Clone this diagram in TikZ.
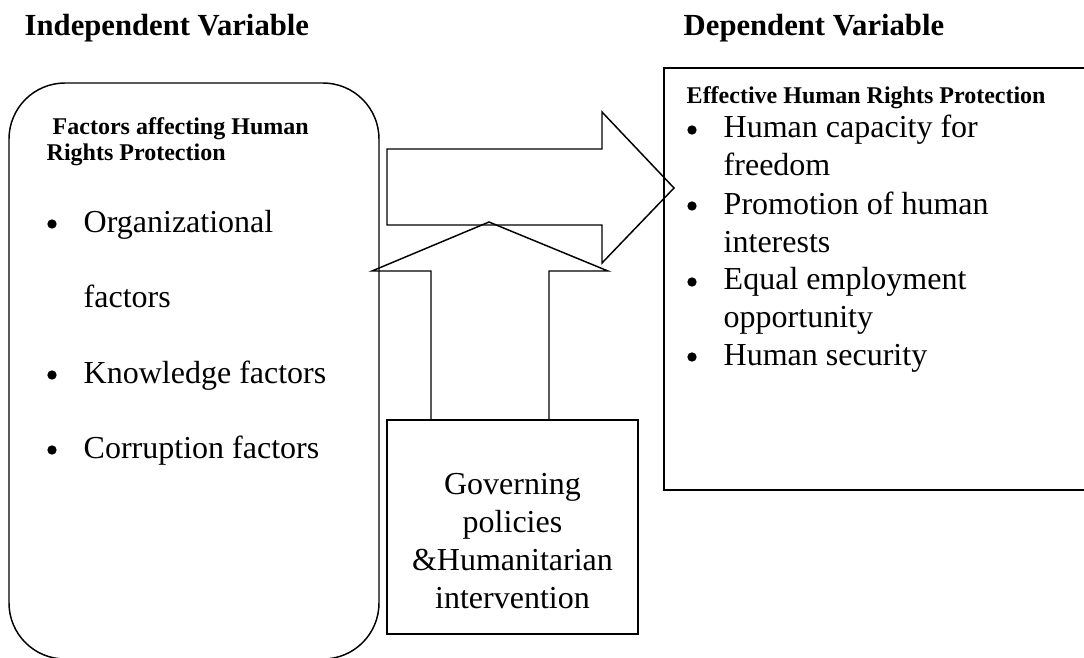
\documentclass[tikz,border=0pt]{standalone}
\usepackage{fontspec}
\setmainfont{Liberation Serif}
\begin{document}
\begin{tikzpicture}[x=0.75pt,y=-0.75pt,line width=1.1pt,
  title/.style={font=\fontsize{23}{28}\selectfont\bfseries,anchor=base west,inner sep=0pt},
  head/.style={font=\fontsize{18}{19.5}\selectfont\bfseries,anchor=base west,inner sep=0pt,align=left},
  item/.style={font=\fontsize{24}{28.35}\selectfont,anchor=base west,inner sep=0pt,align=left},
  dot/.style={circle,fill,inner sep=0pt,minimum size=7pt}]
\useasboundingbox (0,0) rectangle (1084,657);

\node[title] (indep) at (24,35) {Independent Variable};
\node[title] (dep) at (683,35) {Dependent Variable};

% left box
\draw[rounded corners=42pt] (9,83) rectangle (379,659);
\node[head] (factors) at (46,160) {\ Factors affecting Human\\Rights Protection};
\node[dot] (d1) at (52,224) {};
\node[item] (org) at (83,232) {Organizational};
\node[item] (orgb) at (83,307) {factors};
\node[dot] (d2) at (52,375) {};
\node[item] (know) at (83,383) {Knowledge factors};
\node[dot] (d3) at (52,450) {};
\node[item] (corr) at (83,458) {Corruption factors};

% right box
\draw (1100,68) -- (664,68) -- (664,490) -- (1100,490);
\node[head] (effective) at (686,103) {Effective Human Rights Protection};
\node[dot] (e1) at (692,130) {};
\node[item] (cap) at (723,175) {Human capacity for\\freedom};
\node[dot] (e2) at (692,206) {};
\node[item] (prom) at (723,252) {Promotion of human\\interests};
\node[dot] (e3) at (692,282) {};
\node[item] (equal) at (723,327) {Equal employment\\opportunity};
\node[dot] (e4) at (692,357) {};
\node[item] (sec) at (723,365) {Human security};

% moderating box
\node[draw,minimum width=188.25pt,minimum height=160.5pt,inner sep=0pt] (gov) at (512.5,527) {};
\node[item,anchor=base,align=center] (govtxt) at (512.5,608) {Governing\\policies\\\&Humanitarian\\intervention};

% block arrows
\draw (387,149) -- (602,149) -- (602,112) -- (674,188) -- (602,263) -- (602,225) -- (387,225) -- cycle;
\draw (gov.north west -| 431,0) -- (431,271) -- (372,271) -- (489,222) -- (608,271) -- (549,271) -- (gov.north west -| 549,0);
\end{tikzpicture}
\end{document}
